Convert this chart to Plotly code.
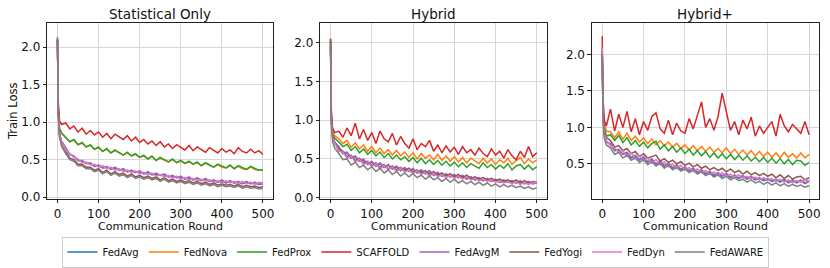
import plotly.graph_objects as go

W, H = 830, 268

ROUNDS = [0, 2, 5, 10, 20, 30, 40, 50, 60, 70,
          80, 90, 100, 110, 120, 130, 140, 150, 160, 170,
          180, 190, 200, 210, 220, 230, 240, 250, 260, 270,
          280, 290, 300, 310, 320, 330, 340, 350, 360, 370,
          380, 390, 400, 410, 420, 430, 440, 450, 460, 470,
          480, 490, 500]

METHODS = ["FedAvg", "FedNova", "FedProx", "SCAFFOLD", "FedAvgM", "FedYogi", "FedDyn", "FedAWARE"]
COLORS = ["#1f77b4", "#ff7f0e", "#2ca02c", "#d62728", "#9467bd", "#8c564b", "#e377c2", "#7f7f7f"]
PANEL_TITLES = ["Statistical Only", "Hybrid", "Hybrid+"]
X_TICKS = [0, 100, 200, 300, 400, 500]

# ---------------- Statistical Only ----------------
STAT_FEDAVG = [2.10, 1.14, 0.84, 0.74, 0.65, 0.57, 0.54, 0.49, 0.48, 0.45,
               0.45, 0.41, 0.42, 0.39, 0.40, 0.37, 0.39, 0.36, 0.37, 0.34,
               0.35, 0.33, 0.34, 0.31, 0.33, 0.30, 0.31, 0.29, 0.30, 0.27,
               0.28, 0.26, 0.27, 0.24, 0.26, 0.23, 0.25, 0.22, 0.24, 0.21,
               0.22, 0.20, 0.22, 0.19, 0.21, 0.19, 0.20, 0.18, 0.20, 0.18,
               0.19, 0.17, 0.18]
STAT_FEDNOVA = [2.10, 1.19, 0.91, 0.85, 0.79, 0.74, 0.76, 0.70, 0.72, 0.67,
                0.69, 0.64, 0.66, 0.61, 0.64, 0.59, 0.62, 0.59, 0.56, 0.59,
                0.55, 0.57, 0.53, 0.55, 0.51, 0.54, 0.49, 0.52, 0.49, 0.47,
                0.50, 0.46, 0.48, 0.45, 0.47, 0.44, 0.46, 0.42, 0.45, 0.42,
                0.40, 0.43, 0.40, 0.39, 0.42, 0.38, 0.41, 0.38, 0.37, 0.40,
                0.37, 0.36, 0.36]
STAT_FEDPROX = [2.10, 1.20, 0.92, 0.86, 0.80, 0.74, 0.77, 0.70, 0.73, 0.67,
                0.70, 0.64, 0.67, 0.61, 0.65, 0.59, 0.63, 0.60, 0.56, 0.60,
                0.55, 0.58, 0.53, 0.56, 0.51, 0.55, 0.49, 0.53, 0.50, 0.47,
                0.51, 0.46, 0.49, 0.45, 0.48, 0.44, 0.47, 0.42, 0.46, 0.43,
                0.40, 0.44, 0.41, 0.39, 0.43, 0.38, 0.42, 0.39, 0.37, 0.41,
                0.38, 0.36, 0.37]
STAT_SCAFFOLD = [2.12, 1.28, 1.02, 0.97, 0.99, 0.91, 0.95, 0.87, 0.92, 0.84,
                 0.89, 0.83, 0.87, 0.80, 0.85, 0.78, 0.84, 0.81, 0.77, 0.82,
                 0.75, 0.80, 0.73, 0.77, 0.71, 0.75, 0.69, 0.74, 0.67, 0.71,
                 0.65, 0.70, 0.66, 0.63, 0.69, 0.62, 0.67, 0.64, 0.60, 0.66,
                 0.62, 0.59, 0.65, 0.60, 0.63, 0.58, 0.66, 0.61, 0.59, 0.64,
                 0.59, 0.62, 0.57]
STAT_FEDAVGM = [2.10, 1.15, 0.85, 0.75, 0.66, 0.57, 0.55, 0.49, 0.49, 0.45,
                0.46, 0.41, 0.43, 0.39, 0.41, 0.37, 0.40, 0.36, 0.38, 0.34,
                0.36, 0.33, 0.35, 0.31, 0.34, 0.30, 0.32, 0.29, 0.31, 0.27,
                0.29, 0.26, 0.28, 0.24, 0.27, 0.23, 0.26, 0.22, 0.25, 0.21,
                0.23, 0.20, 0.23, 0.19, 0.22, 0.19, 0.21, 0.18, 0.21, 0.18,
                0.20, 0.17, 0.19]
STAT_FEDYOGI = [2.10, 1.10, 0.82, 0.70, 0.61, 0.52, 0.50, 0.44, 0.44, 0.40,
                0.40, 0.36, 0.38, 0.33, 0.36, 0.31, 0.34, 0.30, 0.32, 0.28,
                0.31, 0.27, 0.29, 0.26, 0.28, 0.25, 0.27, 0.23, 0.26, 0.22,
                0.24, 0.21, 0.23, 0.20, 0.22, 0.19, 0.21, 0.18, 0.20, 0.17,
                0.19, 0.16, 0.18, 0.16, 0.17, 0.15, 0.17, 0.14, 0.16, 0.14,
                0.15, 0.13, 0.14]
STAT_FEDDYN = [2.08, 1.12, 0.84, 0.73, 0.63, 0.58, 0.53, 0.51, 0.46, 0.47,
               0.43, 0.44, 0.40, 0.42, 0.38, 0.40, 0.36, 0.38, 0.34, 0.36,
               0.33, 0.35, 0.31, 0.33, 0.30, 0.32, 0.28, 0.30, 0.27, 0.29,
               0.25, 0.28, 0.24, 0.26, 0.23, 0.25, 0.22, 0.24, 0.21, 0.23,
               0.20, 0.22, 0.19, 0.22, 0.19, 0.21, 0.18, 0.21, 0.18, 0.20,
               0.17, 0.20, 0.19]
STAT_FEDAWARE = [2.14, 1.08, 0.80, 0.68, 0.58, 0.50, 0.48, 0.42, 0.42, 0.38,
                 0.38, 0.34, 0.36, 0.31, 0.34, 0.29, 0.32, 0.28, 0.30, 0.26,
                 0.29, 0.25, 0.27, 0.24, 0.26, 0.23, 0.25, 0.21, 0.24, 0.20,
                 0.22, 0.19, 0.21, 0.18, 0.20, 0.17, 0.19, 0.16, 0.18, 0.15,
                 0.17, 0.14, 0.16, 0.14, 0.15, 0.13, 0.15, 0.12, 0.14, 0.12,
                 0.13, 0.11, 0.12]

# ---------------- Hybrid ----------------
HYB_FEDAVG = [1.95, 1.00, 0.80, 0.71, 0.65, 0.57, 0.58, 0.51, 0.53, 0.47,
              0.49, 0.43, 0.46, 0.41, 0.44, 0.39, 0.42, 0.37, 0.40, 0.35,
              0.38, 0.34, 0.37, 0.32, 0.35, 0.31, 0.34, 0.29, 0.32, 0.28,
              0.30, 0.27, 0.29, 0.26, 0.28, 0.24, 0.27, 0.23, 0.25, 0.22,
              0.24, 0.21, 0.23, 0.20, 0.22, 0.20, 0.21, 0.19, 0.21, 0.18,
              0.20, 0.18, 0.19]
HYB_FEDNOVA = [2.03, 1.05, 0.86, 0.80, 0.76, 0.70, 0.74, 0.65, 0.71, 0.63,
               0.68, 0.60, 0.66, 0.58, 0.64, 0.57, 0.62, 0.55, 0.61, 0.54,
               0.59, 0.52, 0.58, 0.50, 0.57, 0.51, 0.55, 0.49, 0.56, 0.48,
               0.54, 0.47, 0.53, 0.46, 0.52, 0.45, 0.51, 0.47, 0.44, 0.51,
               0.45, 0.50, 0.43, 0.49, 0.45, 0.51, 0.43, 0.48, 0.52, 0.44,
               0.50, 0.45, 0.49]
HYB_FEDPROX = [2.02, 1.02, 0.82, 0.77, 0.72, 0.66, 0.69, 0.61, 0.66, 0.58,
               0.63, 0.56, 0.61, 0.54, 0.59, 0.52, 0.57, 0.50, 0.55, 0.49,
               0.53, 0.47, 0.52, 0.45, 0.51, 0.44, 0.49, 0.43, 0.48, 0.42,
               0.47, 0.41, 0.46, 0.40, 0.45, 0.39, 0.44, 0.41, 0.38, 0.45,
               0.39, 0.43, 0.37, 0.42, 0.38, 0.44, 0.36, 0.41, 0.43, 0.37,
               0.42, 0.36, 0.40]
HYB_SCAFFOLD = [2.05, 1.10, 0.90, 0.84, 0.86, 0.78, 0.90, 0.80, 0.96, 0.76,
                0.88, 0.74, 0.84, 0.70, 0.86, 0.76, 0.72, 0.83, 0.68, 0.79,
                0.70, 0.64, 0.76, 0.62, 0.70, 0.66, 0.74, 0.60, 0.68, 0.58,
                0.67, 0.59, 0.65, 0.56, 0.66, 0.58, 0.62, 0.55, 0.64, 0.57,
                0.53, 0.63, 0.55, 0.60, 0.51, 0.62, 0.54, 0.49, 0.60, 0.52,
                0.66, 0.53, 0.58]
HYB_FEDAVGM = [1.95, 1.00, 0.80, 0.72, 0.66, 0.58, 0.59, 0.51, 0.54, 0.47,
               0.50, 0.43, 0.47, 0.41, 0.45, 0.39, 0.43, 0.37, 0.41, 0.35,
               0.39, 0.34, 0.38, 0.32, 0.36, 0.31, 0.35, 0.29, 0.33, 0.28,
               0.31, 0.27, 0.30, 0.26, 0.29, 0.24, 0.27, 0.23, 0.26, 0.22,
               0.25, 0.21, 0.24, 0.20, 0.23, 0.20, 0.22, 0.19, 0.22, 0.18,
               0.21, 0.18, 0.20]
HYB_FEDYOGI = [2.05, 1.00, 0.80, 0.71, 0.62, 0.60, 0.53, 0.55, 0.48, 0.51,
               0.45, 0.47, 0.41, 0.45, 0.39, 0.43, 0.37, 0.41, 0.36, 0.39,
               0.35, 0.38, 0.33, 0.36, 0.32, 0.35, 0.30, 0.34, 0.29, 0.32,
               0.28, 0.31, 0.27, 0.30, 0.26, 0.29, 0.25, 0.27, 0.24, 0.26,
               0.23, 0.25, 0.22, 0.24, 0.21, 0.23, 0.20, 0.23, 0.19, 0.22,
               0.19, 0.21, 0.20]
HYB_FEDDYN = [1.90, 0.98, 0.78, 0.70, 0.60, 0.59, 0.51, 0.54, 0.46, 0.50,
              0.43, 0.46, 0.40, 0.44, 0.37, 0.42, 0.36, 0.40, 0.34, 0.38,
              0.33, 0.36, 0.31, 0.35, 0.30, 0.33, 0.28, 0.32, 0.27, 0.30,
              0.26, 0.29, 0.25, 0.28, 0.24, 0.27, 0.23, 0.25, 0.22, 0.24,
              0.21, 0.23, 0.20, 0.22, 0.19, 0.21, 0.18, 0.21, 0.17, 0.20,
              0.17, 0.20, 0.19]
HYB_FEDAWARE = [2.00, 0.95, 0.72, 0.64, 0.57, 0.49, 0.50, 0.42, 0.46, 0.39,
                0.42, 0.36, 0.40, 0.34, 0.38, 0.32, 0.36, 0.30, 0.34, 0.28,
                0.32, 0.27, 0.31, 0.26, 0.29, 0.24, 0.28, 0.23, 0.26, 0.21,
                0.25, 0.20, 0.24, 0.19, 0.22, 0.18, 0.21, 0.17, 0.20, 0.16,
                0.19, 0.15, 0.18, 0.14, 0.17, 0.14, 0.16, 0.13, 0.15, 0.12,
                0.14, 0.11, 0.13]

# ---------------- Hybrid+ ----------------
HYBP_FEDAVG = [2.00, 1.14, 0.90, 0.80, 0.77, 0.68, 0.69, 0.63, 0.65, 0.58,
               0.61, 0.55, 0.59, 0.52, 0.56, 0.49, 0.53, 0.47, 0.50, 0.44,
               0.48, 0.42, 0.45, 0.40, 0.43, 0.38, 0.41, 0.36, 0.39, 0.34,
               0.37, 0.33, 0.36, 0.31, 0.34, 0.30, 0.33, 0.29, 0.32, 0.28,
               0.30, 0.27, 0.29, 0.26, 0.28, 0.25, 0.28, 0.24, 0.27, 0.24,
               0.27, 0.23, 0.26]
HYBP_FEDNOVA = [2.10, 1.30, 1.05, 0.95, 0.94, 0.86, 0.94, 0.84, 0.92, 0.82,
                0.88, 0.80, 0.86, 0.78, 0.84, 0.76, 0.82, 0.75, 0.80, 0.73,
                0.78, 0.71, 0.76, 0.69, 0.75, 0.68, 0.74, 0.67, 0.73, 0.66,
                0.71, 0.65, 0.72, 0.64, 0.70, 0.63, 0.69, 0.62, 0.68, 0.61,
                0.67, 0.60, 0.66, 0.59, 0.65, 0.58, 0.66, 0.59, 0.64, 0.58,
                0.65, 0.58, 0.63]
HYBP_FEDPROX = [2.05, 1.25, 1.00, 0.88, 0.90, 0.82, 0.89, 0.79, 0.86, 0.76,
                0.82, 0.74, 0.80, 0.72, 0.78, 0.81, 0.70, 0.76, 0.68, 0.74,
                0.66, 0.72, 0.64, 0.70, 0.62, 0.68, 0.61, 0.67, 0.59, 0.65,
                0.58, 0.64, 0.57, 0.63, 0.56, 0.62, 0.55, 0.61, 0.54, 0.59,
                0.53, 0.59, 0.52, 0.58, 0.51, 0.57, 0.50, 0.56, 0.49, 0.55,
                0.54, 0.48, 0.52]
HYBP_SCAFFOLD = [2.25, 1.40, 1.10, 1.02, 1.25, 0.95, 1.18, 1.00, 1.22, 0.94,
                 1.12, 0.90, 1.08, 0.96, 1.15, 1.20, 0.98, 0.92, 1.10, 0.90,
                 1.06, 0.95, 0.92, 1.12, 0.98, 1.18, 1.35, 1.00, 1.12, 0.96,
                 1.15, 1.47, 1.22, 0.96, 1.08, 0.90, 1.10, 0.98, 1.14, 0.88,
                 1.02, 0.92, 1.00, 1.08, 0.88, 1.18, 1.02, 0.94, 1.04, 0.98,
                 0.92, 1.08, 0.90]
HYBP_FEDAVGM = [2.00, 1.15, 0.90, 0.80, 0.78, 0.69, 0.70, 0.63, 0.66, 0.59,
                0.62, 0.56, 0.60, 0.53, 0.57, 0.50, 0.54, 0.48, 0.51, 0.45,
                0.49, 0.43, 0.46, 0.41, 0.44, 0.39, 0.42, 0.37, 0.40, 0.35,
                0.38, 0.34, 0.37, 0.32, 0.35, 0.31, 0.34, 0.30, 0.33, 0.29,
                0.31, 0.28, 0.30, 0.27, 0.29, 0.26, 0.29, 0.25, 0.28, 0.25,
                0.28, 0.24, 0.27]
HYBP_FEDYOGI = [2.05, 1.20, 0.95, 0.86, 0.82, 0.73, 0.75, 0.68, 0.71, 0.64,
                0.67, 0.60, 0.64, 0.58, 0.60, 0.62, 0.54, 0.57, 0.52, 0.55,
                0.50, 0.53, 0.48, 0.51, 0.46, 0.49, 0.44, 0.47, 0.42, 0.45,
                0.41, 0.44, 0.39, 0.43, 0.38, 0.41, 0.36, 0.40, 0.35, 0.38,
                0.34, 0.37, 0.33, 0.36, 0.31, 0.35, 0.30, 0.34, 0.29, 0.32,
                0.33, 0.28, 0.31]
HYBP_FEDDYN = [2.10, 1.15, 0.92, 0.82, 0.75, 0.72, 0.66, 0.68, 0.60, 0.65,
               0.57, 0.61, 0.54, 0.58, 0.51, 0.56, 0.49, 0.53, 0.46, 0.50,
               0.44, 0.48, 0.42, 0.45, 0.40, 0.43, 0.38, 0.41, 0.36, 0.39,
               0.35, 0.38, 0.33, 0.36, 0.32, 0.35, 0.31, 0.33, 0.30, 0.32,
               0.28, 0.31, 0.27, 0.30, 0.26, 0.29, 0.25, 0.28, 0.24, 0.27,
               0.25, 0.28, 0.26]
HYBP_FEDAWARE = [2.00, 1.10, 0.85, 0.76, 0.72, 0.63, 0.66, 0.58, 0.62, 0.55,
                 0.58, 0.52, 0.56, 0.49, 0.53, 0.47, 0.51, 0.44, 0.48, 0.42,
                 0.45, 0.40, 0.43, 0.38, 0.41, 0.36, 0.39, 0.34, 0.37, 0.32,
                 0.35, 0.30, 0.33, 0.28, 0.31, 0.27, 0.29, 0.25, 0.28, 0.24,
                 0.26, 0.22, 0.25, 0.21, 0.24, 0.20, 0.23, 0.19, 0.22, 0.19,
                 0.21, 0.18, 0.20]

PANELS = [
    [STAT_FEDAVG, STAT_FEDNOVA, STAT_FEDPROX, STAT_SCAFFOLD, STAT_FEDAVGM, STAT_FEDYOGI, STAT_FEDDYN, STAT_FEDAWARE],
    [HYB_FEDAVG, HYB_FEDNOVA, HYB_FEDPROX, HYB_SCAFFOLD, HYB_FEDAVGM, HYB_FEDYOGI, HYB_FEDDYN, HYB_FEDAWARE],
    [HYBP_FEDAVG, HYBP_FEDNOVA, HYBP_FEDPROX, HYBP_SCAFFOLD, HYBP_FEDAVGM, HYBP_FEDYOGI, HYBP_FEDDYN, HYBP_FEDAWARE],
]
Y_TICKS = [[0.0, 0.5, 1.0, 1.5, 2.0], [0.0, 0.5, 1.0, 1.5, 2.0], [0.5, 1.0, 1.5, 2.0]]

# ---------------- layout geometry (pixels) ----------------
PANEL_X = [(47.3, 273.5), (321.0, 548.0), (593.3, 821.0)]
PANEL_Y = (24.0, 203.3)
Y_RANGES = [(-0.021, 2.317), (-0.013, 2.248), (0.022, 2.425)]
X_RANGE = (-25, 524)

FONT = "DejaVu Sans"


def px_x(x):
    return x / W


def px_y(y):
    return 1 - y / H


fig = go.Figure()

for p, series in enumerate(PANELS):
    ax = "" if p == 0 else str(p + 1)
    for name, color, vals in zip(METHODS, COLORS, series):
        fig.add_trace(go.Scatter(
            x=ROUNDS, y=vals, mode="lines", name=name,
            line=dict(color=color, width=1.5),
            legendgroup=name, showlegend=(p == 0),
            xaxis="x" + ax, yaxis="y" + ax,
        ))

axis_common = dict(
    showline=True, linecolor="#222222", linewidth=1, mirror=True,
    ticks="outside", ticklen=3.5, tickcolor="#222222", tickwidth=0.8,
    showgrid=True, gridcolor="#d6d6d6", gridwidth=1, zeroline=False,
    tickfont=dict(family=FONT, size=12, color="#111111"),
)

layout = dict(
    width=W, height=H,
    margin=dict(l=0, r=0, t=0, b=0),
    paper_bgcolor="white", plot_bgcolor="white",
    font=dict(family=FONT, color="#111111"),
    legend=dict(
        orientation="h", x=px_x(417), xanchor="center",
        y=px_y(242), yanchor="top",
        bordercolor="#cccccc", borderwidth=1, bgcolor="white",
        font=dict(family=FONT, size=10, color="#111111"),
        itemwidth=30, tracegroupgap=0,
    ),
)

annotations = []
for p in range(3):
    ax = "" if p == 0 else str(p + 1)
    x0, x1 = PANEL_X[p]
    layout["xaxis" + ax] = dict(
        axis_common, domain=[px_x(x0), px_x(x1)], range=list(X_RANGE),
        tickvals=X_TICKS, anchor="y" + ax, ticklabeloverflow="allow",
    )
    layout["yaxis" + ax] = dict(
        axis_common, domain=[px_y(PANEL_Y[1]), px_y(PANEL_Y[0])], range=list(Y_RANGES[p]),
        tickvals=Y_TICKS[p], tickformat=".1f", anchor="x" + ax,
    )
    cx = px_x((x0 + x1) / 2)
    annotations.append(dict(
        text=PANEL_TITLES[p], x=cx, y=px_y(14), xref="paper", yref="paper",
        showarrow=False, xanchor="center", yanchor="middle",
        font=dict(family=FONT, size=13.5, color="#111111"),
    ))
    annotations.append(dict(
        text="Communication Round", x=cx, y=px_y(232), xref="paper", yref="paper",
        showarrow=False, xanchor="center", yanchor="middle",
        font=dict(family=FONT, size=11, color="#111111"),
    ))

annotations.append(dict(
    text="Train Loss", x=px_x(13), y=px_y((PANEL_Y[0] + PANEL_Y[1]) / 2),
    xref="paper", yref="paper", showarrow=False, textangle=-90,
    xanchor="center", yanchor="middle",
    font=dict(family=FONT, size=11.5, color="#111111"),
))
layout["annotations"] = annotations

fig.update_layout(**layout)
fig.write_html("out.html", config={"displayModeBar": False},
               post_script="document.body.style.margin='0';")
